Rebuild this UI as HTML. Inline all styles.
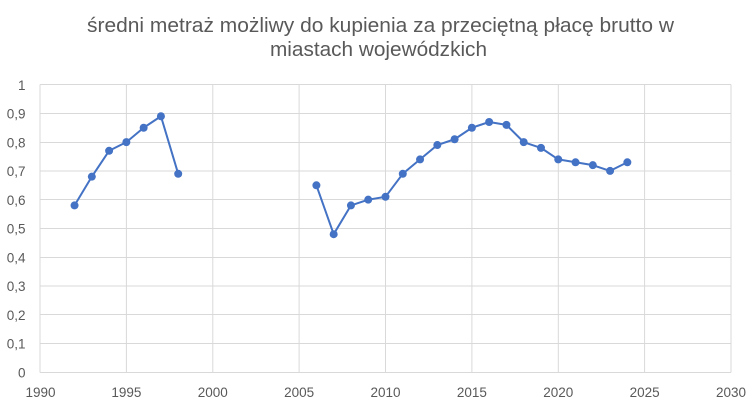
<!DOCTYPE html>
<html><head><meta charset="utf-8"><style>
html,body{margin:0;padding:0;background:#fff;}
svg{display:block;}
text{font-family:"Liberation Sans",sans-serif;fill:#595959;}
</style></head><body>
<svg width="756" height="403" viewBox="0 0 756 403" xmlns="http://www.w3.org/2000/svg">
<rect width="756" height="403" fill="#fff"/>
<text x="380.5" y="32" font-size="20.5" text-anchor="middle" textLength="587" lengthAdjust="spacingAndGlyphs">średni metraż możliwy do kupienia za przeciętną płacę brutto w</text>
<text x="378.5" y="56" font-size="20.5" text-anchor="middle" textLength="217" lengthAdjust="spacingAndGlyphs">miastach wojewódzkich</text>
<g stroke="#D9D9D9" stroke-width="1" fill="none">
<line x1="40" y1="372.5" x2="731" y2="372.5"/>
<line x1="40" y1="343.5" x2="731" y2="343.5"/>
<line x1="40" y1="314.5" x2="731" y2="314.5"/>
<line x1="40" y1="286" x2="731" y2="286"/>
<line x1="40" y1="257.5" x2="731" y2="257.5"/>
<line x1="40" y1="228.5" x2="731" y2="228.5"/>
<line x1="40" y1="199.5" x2="731" y2="199.5"/>
<line x1="40" y1="171" x2="731" y2="171"/>
<line x1="40" y1="142.5" x2="731" y2="142.5"/>
<line x1="40" y1="113.5" x2="731" y2="113.5"/>
<line x1="40" y1="84.5" x2="731" y2="84.5"/>
<line x1="40" y1="84.5" x2="40" y2="372.5"/>
<line x1="126.4" y1="84.5" x2="126.4" y2="372.5"/>
<line x1="212.8" y1="84.5" x2="212.8" y2="372.5"/>
<line x1="299.1" y1="84.5" x2="299.1" y2="372.5"/>
<line x1="385.5" y1="84.5" x2="385.5" y2="372.5"/>
<line x1="471.9" y1="84.5" x2="471.9" y2="372.5"/>
<line x1="558.3" y1="84.5" x2="558.3" y2="372.5"/>
<line x1="644.6" y1="84.5" x2="644.6" y2="372.5"/>
<line x1="731" y1="84.5" x2="731" y2="372.5"/>
</g>
<g font-size="13.5" text-anchor="end">
<text x="25.5" y="377.5">0</text>
<text x="25.5" y="348.5">0,1</text>
<text x="25.5" y="320">0,2</text>
<text x="25.5" y="291">0,3</text>
<text x="25.5" y="262.5">0,4</text>
<text x="25.5" y="233.5">0,5</text>
<text x="25.5" y="205">0,6</text>
<text x="25.5" y="176">0,7</text>
<text x="25.5" y="147.5">0,8</text>
<text x="25.5" y="118.5">0,9</text>
<text x="25.5" y="90">1</text>
</g>
<g font-size="13.5" text-anchor="middle">
<text x="40.5" y="397">1990</text>
<text x="126.4" y="397">1995</text>
<text x="212.8" y="397">2000</text>
<text x="299.1" y="397">2005</text>
<text x="385.5" y="397">2010</text>
<text x="471.9" y="397">2015</text>
<text x="558.3" y="397">2020</text>
<text x="644.6" y="397">2025</text>
<text x="731" y="397">2030</text>
</g>
<g stroke="#4472C4" stroke-width="2" fill="none" stroke-linejoin="round">
<polyline points="74.55,205.4 91.83,176.66 109.1,150.77 126.38,142.14 143.65,127.75 160.93,116.25 178.2,173.79"/>
<polyline points="316.4,185.3 333.68,234.2 350.95,205.4 368.23,199.68 385.5,196.8 402.78,173.79 420.05,159.4 437.33,145.02 454.6,139.26 471.88,127.75 489.15,122 506.43,124.88 523.7,142.14 540.98,147.89 558.25,159.4 575.53,162.27 592.8,165.16 610.08,170.91 627.35,162.27"/>
</g>
<g fill="#4472C4">
<circle cx="74.55" cy="205.4" r="4"/>
<circle cx="91.83" cy="176.66" r="4"/>
<circle cx="109.1" cy="150.77" r="4"/>
<circle cx="126.38" cy="142.14" r="4"/>
<circle cx="143.65" cy="127.75" r="4"/>
<circle cx="160.93" cy="116.25" r="4"/>
<circle cx="178.2" cy="173.79" r="4"/>
<circle cx="316.4" cy="185.3" r="4"/>
<circle cx="333.68" cy="234.2" r="4"/>
<circle cx="350.95" cy="205.4" r="4"/>
<circle cx="368.23" cy="199.68" r="4"/>
<circle cx="385.5" cy="196.8" r="4"/>
<circle cx="402.78" cy="173.79" r="4"/>
<circle cx="420.05" cy="159.4" r="4"/>
<circle cx="437.33" cy="145.02" r="4"/>
<circle cx="454.6" cy="139.26" r="4"/>
<circle cx="471.88" cy="127.75" r="4"/>
<circle cx="489.15" cy="122" r="4"/>
<circle cx="506.43" cy="124.88" r="4"/>
<circle cx="523.7" cy="142.14" r="4"/>
<circle cx="540.98" cy="147.89" r="4"/>
<circle cx="558.25" cy="159.4" r="4"/>
<circle cx="575.53" cy="162.27" r="4"/>
<circle cx="592.8" cy="165.16" r="4"/>
<circle cx="610.08" cy="170.91" r="4"/>
<circle cx="627.35" cy="162.27" r="4"/>
</g>
</svg>
</body></html>
